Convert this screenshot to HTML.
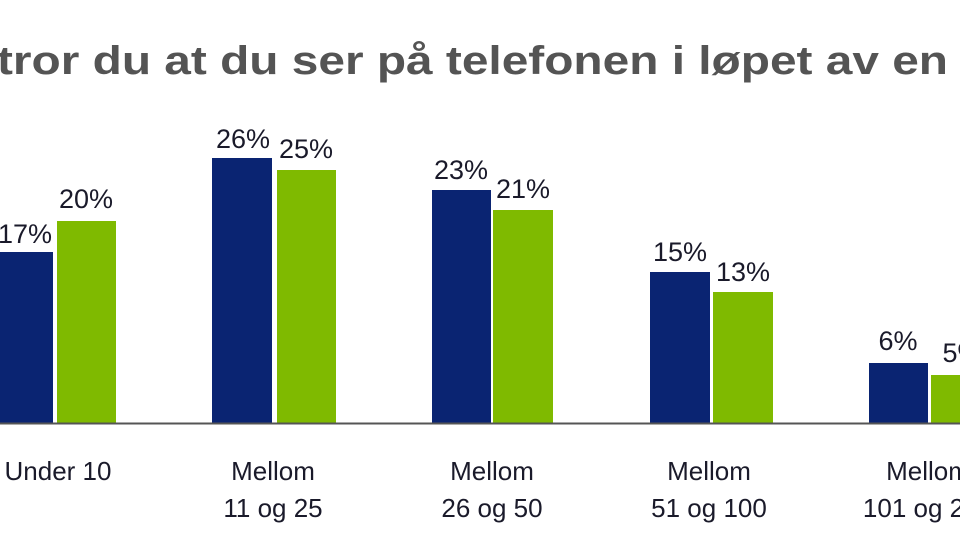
<!DOCTYPE html>
<html><head><meta charset="utf-8"><style>
html,body{margin:0;padding:0;background:#fff;}
svg{display:block;}
</style></head><body>
<svg width="960" height="548" viewBox="0 0 960 548" xmlns="http://www.w3.org/2000/svg" font-family="Liberation Sans, sans-serif">
<rect width="960" height="548" fill="#fff"/>
<text x="-3" y="74" font-size="40" font-weight="bold" fill="#545454" textLength="951" lengthAdjust="spacingAndGlyphs">tror du at du ser på telefonen i løpet av en</text>
<g fill="#0a2472">
<rect x="-10" y="252" width="63" height="171"/>
<rect x="212" y="158" width="60" height="265"/>
<rect x="432" y="190" width="59" height="233"/>
<rect x="650" y="272" width="60" height="151"/>
<rect x="869" y="363" width="59" height="60"/>
</g>
<g fill="#7fba00">
<rect x="57" y="221" width="59" height="202"/>
<rect x="277" y="170" width="59" height="253"/>
<rect x="493" y="210" width="60" height="213"/>
<rect x="713" y="292" width="60" height="131"/>
<rect x="931" y="375" width="40" height="48"/>
</g>
<line x1="0" y1="423.5" x2="960" y2="423.5" stroke="#555" stroke-width="2"/>
<g font-size="27" fill="#1a1a2a" text-anchor="middle">
<text x="25" y="243">17%</text>
<text x="86" y="208">20%</text>
<text x="243" y="148">26%</text>
<text x="306" y="158">25%</text>
<text x="461" y="179">23%</text>
<text x="523" y="198">21%</text>
<text x="680" y="261">15%</text>
<text x="743" y="281">13%</text>
<text x="898" y="350">6%</text>
<text x="962" y="362">5%</text>
</g>
<g font-size="26" fill="#1a1a2a" text-anchor="middle">
<text x="58" y="480">Under 10</text>
<text x="273" y="480">Mellom</text>
<text x="273" y="517">11 og 25</text>
<text x="492" y="480">Mellom</text>
<text x="492" y="517">26 og 50</text>
<text x="709" y="480">Mellom</text>
<text x="709" y="517">51 og 100</text>
<text x="928" y="480">Mellom</text>
<text x="928" y="517">101 og 200</text>
</g>
</svg>
</body></html>
